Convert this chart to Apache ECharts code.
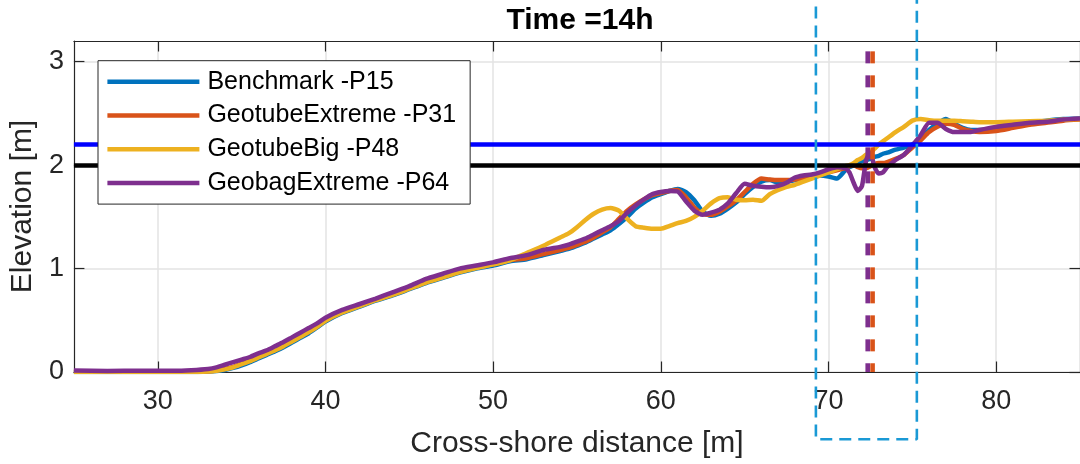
<!DOCTYPE html>
<html>
<head>
<meta charset="utf-8">
<script src="https://cdn.jsdelivr.net/npm/echarts@6/dist/echarts.min.js"></script>
<style>
html,body{margin:0;padding:0;background:#fff;}
#c{width:1080px;height:464px;}
</style>
</head>
<body>
<div id="c"></div>
<script>
// ---- data ----
const distance = [25, 27, 29, 31, 32, 33,
  33.5, 34, 34.5, 35, 35.5, 36, 36.5, 37, 37.5, 38, 38.5, 39, 39.5, 40,
  41, 42, 43, 44, 45, 46, 47, 48, 49, 50, 51, 52, 53, 54,
  54.5, 55, 55.5, 56, 56.5, 57, 57.5, 58, 58.5, 59, 59.5, 60, 60.5, 61, 61.5, 62, 62.5, 63, 63.5, 64,
  64.5, 65, 65.5, 66, 66.5, 67, 67.5, 68, 68.5, 69, 69.5, 70, 70.5, 71,
  71.25, 71.5, 71.75, 72, 72.25, 72.5, 72.75, 73, 73.25, 73.5,
  74, 74.5, 75, 75.5, 76, 76.5, 77, 77.5, 78, 78.5, 79,
  80, 81, 82, 83, 84, 85];

const benchmarkP15 = [0.0, 0.0, 0.0, 0.0, 0.0, 0.005,
  0.01, 0.02, 0.04, 0.065, 0.095, 0.13, 0.165, 0.2, 0.24, 0.285, 0.33, 0.375, 0.43, 0.487,
  0.57, 0.63, 0.69, 0.74, 0.8, 0.86, 0.91, 0.96, 1.0, 1.03, 1.07, 1.09, 1.13, 1.17,
  1.19, 1.22, 1.25, 1.29, 1.33, 1.37, 1.43, 1.5, 1.58, 1.64, 1.69, 1.72, 1.75, 1.77, 1.74, 1.66, 1.55, 1.51, 1.53, 1.58,
  1.64, 1.72, 1.79, 1.84, 1.855, 1.83, 1.84, 1.855, 1.87, 1.89, 1.9, 1.89, 1.87, 1.95,
  1.98, 2.0, 2.02, 2.04, 2.05, 2.06, 2.08, 2.09, 2.11, 2.12,
  2.15, 2.17, 2.2, 2.25, 2.34, 2.4, 2.445, 2.4, 2.36, 2.34, 2.34,
  2.36, 2.39, 2.41, 2.43, 2.445, 2.45];

const geotubeExtremeP31 = [0.005, 0.005, 0.005, 0.005, 0.005, 0.008,
  0.015, 0.03, 0.05, 0.08, 0.11, 0.145, 0.18, 0.215, 0.255, 0.3, 0.345, 0.39, 0.44, 0.5,
  0.58, 0.64, 0.7, 0.75, 0.81, 0.87, 0.92, 0.97, 1.01, 1.04, 1.08, 1.1, 1.14, 1.18,
  1.2, 1.23, 1.26, 1.3, 1.35, 1.4, 1.48, 1.56, 1.62, 1.67, 1.71, 1.73, 1.75, 1.76, 1.69, 1.59, 1.53, 1.52, 1.55, 1.6,
  1.66, 1.74, 1.82, 1.87, 1.86, 1.855, 1.855, 1.86, 1.875, 1.89, 1.91, 1.93, 1.95, 1.97,
  1.99, 2.0, 1.98, 1.97, 1.97, 1.99, 2.01, 2.02, 2.02, 2.03,
  2.06, 2.1, 2.17, 2.24, 2.32, 2.37, 2.4, 2.39, 2.35, 2.33, 2.32,
  2.33, 2.36, 2.39, 2.41, 2.43, 2.44];

const geotubeBigP48 = [0.0, 0.0, 0.0, 0.0, 0.0, 0.005,
  0.012, 0.025, 0.045, 0.075, 0.105, 0.14, 0.175, 0.21, 0.25, 0.295, 0.34, 0.385, 0.435, 0.495,
  0.575, 0.635, 0.695, 0.745, 0.805, 0.865, 0.915, 0.965, 1.005, 1.04, 1.08, 1.15, 1.22, 1.3,
  1.34, 1.4, 1.47, 1.53, 1.57, 1.585, 1.56, 1.48, 1.41, 1.395, 1.385, 1.385, 1.41, 1.44, 1.46, 1.5, 1.56, 1.63, 1.68, 1.69,
  1.665, 1.66, 1.665, 1.655, 1.72, 1.76, 1.79, 1.81, 1.84, 1.87, 1.9, 1.93, 1.96, 1.99,
  2.0, 2.02, 2.05, 2.07, 2.1, 2.12, 2.16, 2.2, 2.23, 2.26,
  2.32, 2.37, 2.43, 2.445, 2.435, 2.43, 2.43, 2.43, 2.425, 2.42, 2.415,
  2.415, 2.42, 2.425, 2.43, 2.44, 2.445];

const geobagExtremeP64 = [0.015, 0.01, 0.012, 0.012, 0.018, 0.03,
  0.045, 0.07, 0.095, 0.12, 0.145, 0.18, 0.21, 0.25, 0.29, 0.335, 0.38, 0.425, 0.47, 0.525,
  0.6, 0.655, 0.71, 0.77, 0.83, 0.9, 0.95, 1.0, 1.03, 1.06, 1.1, 1.13, 1.18, 1.21,
  1.23, 1.26, 1.29, 1.33, 1.37, 1.41, 1.46, 1.54, 1.61, 1.67, 1.72, 1.74, 1.75, 1.745, 1.65, 1.56, 1.52, 1.54, 1.57, 1.63,
  1.73, 1.82, 1.8, 1.79, 1.785, 1.8, 1.83, 1.88, 1.9, 1.91, 1.93, 1.96, 1.98, 1.97,
  1.93, 1.83, 1.75, 1.8, 2.05, 2.12, 1.98, 1.92, 1.93, 1.98,
  2.05, 2.1, 2.19, 2.29, 2.41, 2.41, 2.35, 2.32, 2.32, 2.32, 2.34,
  2.37, 2.39, 2.41, 2.42, 2.44, 2.45];

const seriesNames = ['Benchmark -P15', 'GeotubeExtreme -P31', 'GeotubeBig -P48', 'GeobagExtreme -P64'];
const seriesValues = [benchmarkP15, geotubeExtremeP31, geotubeBigP48, geobagExtremeP64];

const xRange = [25, 85];
const yRange = [0, 3.2];
const xTickValues = [30, 40, 50, 60, 70, 80];
const yTickValues = [0, 1, 2, 3];

const levelBlue = 2.2;    // horizontal blue line
const levelBlack = 2.0;   // horizontal black line
const breachX = [72.34, 72.63];  // purple, orange dashed verticals
const breachTop = 3.1;
const boxX = [69.25, 75.27];     // dashed box
const boxY = [-0.65, 3.9];

// ---- styles ----
const colors = ['#0072BD', '#D95319', '#EDB120', '#7E2F8E'];
const FONT = 'Liberation Sans, Arial, sans-serif';
const AX = '#262626';

const chart = echarts.init(document.getElementById('c'), null, {renderer: 'canvas'});

const curveSeries = seriesNames.map((n, k) => ({
  name: n,
  type: 'line',
  data: distance.map((x, i) => [x, seriesValues[k][i]]),
  symbol: 'none',
  showSymbol: false,
  smooth: 0.2,
  lineStyle: {color: colors[k], width: 4.5},
  itemStyle: {color: colors[k]},
  z: 2
}));

const refSeries = {
  type: 'line',
  data: [],
  silent: true,
  z: 3,
  markLine: {
    silent: true,
    symbol: ['none', 'none'],
    label: {show: false},
    animation: false,
    data: [
      {yAxis: levelBlue, lineStyle: {color: '#0000ff', width: 4.5, type: 'solid'}},
      {yAxis: levelBlack, lineStyle: {color: '#000000', width: 4.5, type: 'solid'}}
    ]
  }
};

const breachColors = ['#7E2F8E', '#D95319'];
const breachSeries = breachX.map((bx, k) => ({
  type: 'line',
  data: [[bx, breachTop], [bx, yRange[0]]],
  symbol: 'none',
  silent: true,
  lineStyle: {color: breachColors[k], width: 4.6, type: [12, 12]},
  z: 4
}));

const boxSeries = {
  type: 'line',
  data: [[boxX[0], boxY[1]], [boxX[0], boxY[0]], [boxX[1], boxY[0]], [boxX[1], boxY[1]]],
  symbol: 'none',
  silent: true,
  clip: false,
  lineStyle: {color: '#1a99d5', width: 2.6, type: [12, 7]},
  z: 5
};

const tickStyle = {color: AX, width: 1.2};
const option = {
  animation: false,
  backgroundColor: '#ffffff',
  title: {
    text: 'Time =14h',
    left: 580,
    top: 6,
    textAlign: 'center',
    padding: 0,
    textStyle: {fontSize: 30, fontWeight: 'bold', color: '#000', fontFamily: FONT}
  },
  grid: {left: 73.6, top: 41, width: 1015.8, height: 335, containLabel: false},
  legend: {
    data: seriesNames,
    orient: 'vertical',
    left: 98,
    top: 60.7,
    icon: 'rect',
    itemWidth: 92,
    itemHeight: 4.5,
    itemGap: 8.8,
    padding: [8.5, 14, 8.5, 9.4],
    backgroundColor: '#ffffff',
    borderColor: AX,
    borderWidth: 1,
    textStyle: {fontSize: 25, color: '#000', fontFamily: FONT, padding: [0, 0, 0, 3]},
    z: 10
  },
  xAxis: [
    {
      type: 'value', min: xRange[0], max: xRange[1], position: 'bottom',
      axisLine: {show: true, onZero: false, lineStyle: tickStyle},
      axisTick: {show: true, inside: true, length: 10.5, customValues: xTickValues, lineStyle: tickStyle},
      axisLabel: {customValues: xTickValues, margin: 16, fontSize: 27, color: AX, fontFamily: FONT},
      splitLine: {show: true, lineStyle: {color: '#e3e3e3', width: 1.5}},
      name: 'Cross-shore distance [m]', nameLocation: 'middle', nameGap: 57,
      nameTextStyle: {fontSize: 30, color: AX, fontFamily: FONT}
    },
    {
      type: 'value', min: xRange[0], max: xRange[1], position: 'top',
      axisLine: {show: true, onZero: false, lineStyle: tickStyle},
      axisTick: {show: true, inside: true, length: 10.5, customValues: xTickValues, lineStyle: tickStyle},
      axisLabel: {show: false},
      splitLine: {show: false}
    }
  ],
  yAxis: [
    {
      type: 'value', min: yRange[0], max: yRange[1], position: 'left',
      axisLine: {show: true, onZero: false, lineStyle: tickStyle},
      axisTick: {show: true, inside: true, length: 10.5, customValues: yTickValues, lineStyle: tickStyle},
      axisLabel: {customValues: yTickValues, margin: 10, fontSize: 27, color: AX, fontFamily: FONT},
      splitLine: {show: true, lineStyle: {color: '#e3e3e3', width: 1.5}},
      name: 'Elevation [m]', nameLocation: 'middle', nameGap: 32,
      nameTextStyle: {fontSize: 30, color: AX, fontFamily: FONT}
    },
    {
      type: 'value', min: yRange[0], max: yRange[1], position: 'right',
      axisLine: {show: true, onZero: false, lineStyle: tickStyle},
      axisTick: {show: true, inside: true, length: 10.5, customValues: yTickValues, lineStyle: tickStyle},
      axisLabel: {show: false},
      splitLine: {show: false}
    }
  ],
  series: [...curveSeries, refSeries, ...breachSeries, boxSeries]
};
chart.setOption(option);
</script>
</body>
</html>
